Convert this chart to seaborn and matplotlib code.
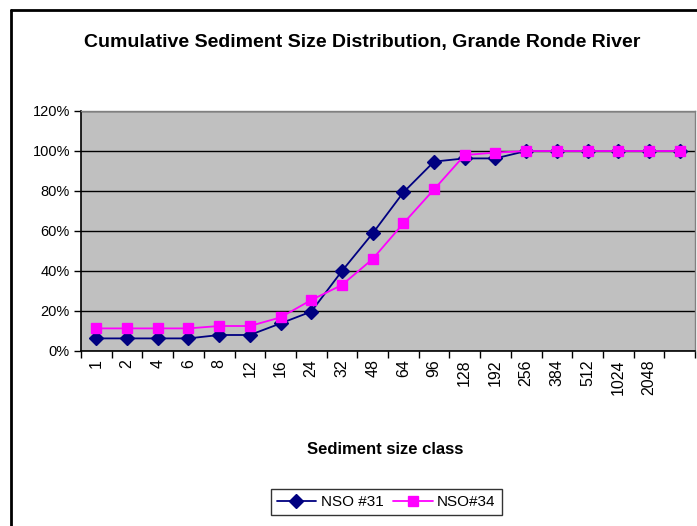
import seaborn as sns
import pandas as pd
import matplotlib.pyplot as plt
from matplotlib.lines import Line2D
from matplotlib.ticker import FixedLocator, PercentFormatter

# size classes (the last class has no label on the chart)
size_class = ['1', '2', '4', '6', '8', '12', '16', '24', '32', '48',
              '64', '96', '128', '192', '256', '384', '512', '1024', '2048', ' ']
nso31 = [6.3, 6.3, 6.3, 6.3, 8.0, 8.0, 13.8, 19.7, 40.0, 58.8,
         79.3, 94.7, 96.3, 96.3, 100, 100, 100, 100, 100, 100]
nso34 = [11.3, 11.3, 11.3, 11.3, 12.5, 12.5, 16.8, 25.5, 33.0, 46.0,
         63.8, 80.8, 98.0, 99.2, 100, 100, 100, 100, 100, 100]
series_names = ['NSO #31', 'NSO#34']

df = pd.concat([
    pd.DataFrame({'size': size_class, 'pct': nso31, 'site': series_names[0]}),
    pd.DataFrame({'size': size_class, 'pct': nso34, 'site': series_names[1]}),
])

sns.set_style('white', {'text.color': 'black', 'axes.labelcolor': 'black',
                        'xtick.color': 'black', 'ytick.color': 'black'})
plt.rcParams['font.family'] = ['Liberation Sans', 'DejaVu Sans']

fig = plt.figure(figsize=(6.97, 5.26), dpi=100)
ax = fig.add_axes([81 / 697, 175 / 526, 614 / 697, 240 / 526])
ax.set_facecolor('#c0c0c0')

sns.pointplot(data=df, x='size', y='pct', hue='site', order=size_class,
              hue_order=series_names, palette=['#000080', '#ff00ff'],
              markers=['D', 's'], linestyles=['-', '-'], markersize=7,
              linewidth=1.3, dodge=False, errorbar=None, ax=ax)

ax.set_ylim(0, 120)
ax.set_xlim(-0.5, len(size_class) - 0.5)
ax.yaxis.set_major_locator(FixedLocator(range(0, 121, 20)))
ax.yaxis.set_major_formatter(PercentFormatter(decimals=0))
ax.yaxis.grid(True, color='black', linewidth=1)
ax.set_axisbelow(True)

# Excel style: ticks on category boundaries, labels in the middle
ax.set_xticks([i - 0.5 for i in range(len(size_class) + 1)])
ax.set_xticklabels([])
ax.set_xticks(range(len(size_class)), minor=True)
ax.set_xticklabels(size_class, minor=True, rotation=90, fontsize=11.5)
ax.tick_params(axis='x', which='major', direction='out', length=5,
               width=1, color='black', bottom=True)
ax.tick_params(axis='x', which='minor', length=0, pad=6, labelcolor='black')
ax.tick_params(axis='y', direction='out', length=5, width=1,
               color='black', left=True, labelsize=10.5, pad=3, labelcolor='black')

for s in ['left', 'bottom']:
    ax.spines[s].set_color('black')
    ax.spines[s].set_linewidth(1.2)
for s in ['top', 'right']:
    ax.spines[s].set_color('#808080')
    ax.spines[s].set_linewidth(1)

ax.set_xlabel('')
ax.set_ylabel('')

fig.text(0.52, 1 - 42 / 526, 'Cumulative Sediment Size Distribution, Grande Ronde River',
         ha='center', va='center', fontsize=14, fontweight='bold', color='black')
fig.text(0.553, 1 - 450 / 526, 'Sediment size class', ha='center', va='center',
         fontsize=12, fontweight='bold', color='black')

handles, labels = ax.get_legend_handles_labels()
ax.get_legend().remove()
leg = fig.legend(handles, labels, loc='center', bbox_to_anchor=(0.554, 1 - 502 / 526),
                 ncol=2, frameon=True, fancybox=False, edgecolor='black',
                 handlelength=2.6, handletextpad=0.3,
                 columnspacing=0.6, borderpad=0.4, labelcolor='black',
                 prop={'family': ['Liberation Sans', 'DejaVu Sans'], 'size': 11})
leg.get_frame().set_linewidth(1)

# chart border (cut off at right and bottom in the original)
fig.add_artist(Line2D([11 / 697, 11 / 697], [0, 1 - 10 / 526], color='black', linewidth=2))
fig.add_artist(Line2D([11 / 697, 1], [1 - 10 / 526, 1 - 10 / 526], color='black', linewidth=2))

fig.savefig('out.png', dpi=100)
